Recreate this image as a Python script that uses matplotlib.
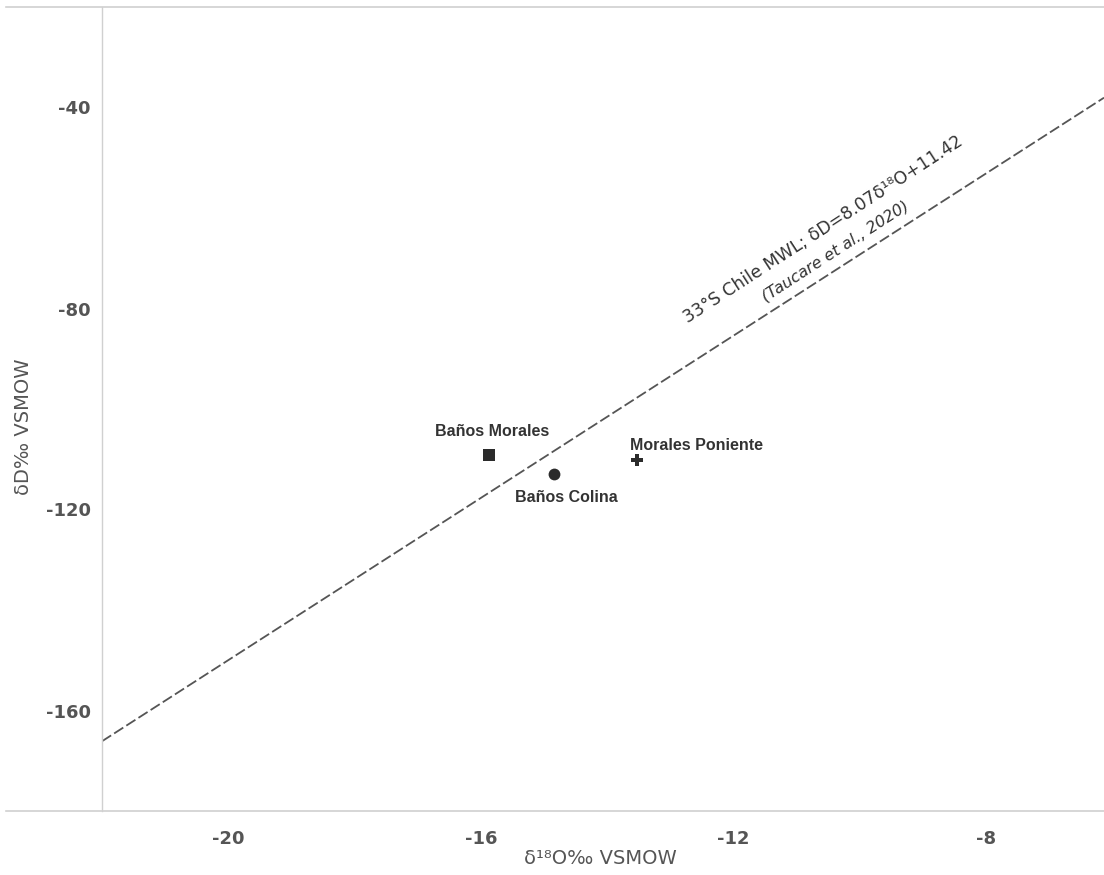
import matplotlib
matplotlib.use("Agg")
import matplotlib.pyplot as plt
import numpy as np
from matplotlib.lines import Line2D

# sample points (d18O, dD)
sites = ["Baños Morales", "Baños Colina", "Morales Poniente"]
d18o = [-15.87, -14.84, -13.52]
dd = [-109.2, -112.9, -110.1]
markers = ["s", "o", "P"]

# local meteoric water line (Taucare et al., 2020)
mwl_slope = 8.07
mwl_intercept = 11.42

x_ticks = [-20, -16, -12, -8]
y_ticks = [-40, -80, -120, -160]

W, H = 1104, 875
fig = plt.figure(figsize=(W / 100, H / 100), dpi=100)
ax = fig.add_axes([102 / W, (H - 811) / H, 1002 / W, 804 / H])

xlim = (-22, -6.13)
ylim = (-180, -20)

xs = np.array(xlim)
ax.plot(xs, mwl_slope * xs + mwl_intercept, color="#555555", lw=1.3,
        dashes=(6, 2))

label_off = {
    "Baños Morales": ((2, 17), "center"),
    "Baños Colina": ((9, -17), "center"),
    "Morales Poniente": ((-5, 10), "left"),
}
for name, x, y, m in zip(sites, d18o, dd, markers):
    ax.plot(x, y, marker=m, color="#2b2b2b", ms=8 if m != "o" else 8.5,
            mew=0, linestyle="none")
    off, ha = label_off[name]
    ax.annotate(name, (x, y), xytext=off, textcoords="offset points",
                ha=ha, va="center", fontsize=11.5, fontweight="bold",
                family="Liberation Sans", color="#333333")

ax.text(-10.57, -64.2, "33°S Chile MWL; δD=8.07δ¹⁸O+11.42", rotation=33,
        rotation_mode="anchor", ha="center", va="center", fontsize=12.5,
        color="#333333")
ax.text(-10.38, -68.6, "(Taucare et al., 2020)", rotation=33,
        rotation_mode="anchor", ha="center", va="center", fontsize=11.5,
        style="italic", color="#333333")

ax.set_xlim(*xlim)
ax.set_ylim(*ylim)
ax.set_xticks(x_ticks)
ax.set_yticks(y_ticks)
ax.set_xticklabels([str(t) for t in x_ticks])
ax.set_yticklabels([str(t) for t in y_ticks])
ax.tick_params(length=0, labelsize=13, labelcolor="#555555")
ax.tick_params(axis="x", pad=14)
ax.tick_params(axis="y", pad=8)
for lab in ax.get_xticklabels() + ax.get_yticklabels():
    lab.set_fontweight("bold")

for s in ["top", "right", "bottom"]:
    ax.spines[s].set_visible(False)
ax.spines["left"].set_color("#d0d0d0")
ax.spines["left"].set_linewidth(1)

for yy in [(H - 7) / H, (H - 811) / H]:
    fig.add_artist(Line2D([6 / W, 1], [yy, yy], transform=fig.transFigure,
                          color="#d0d0d0", lw=1.2))

ax.set_xlabel("δ¹⁸O‰ VSMOW", fontsize=14, color="#555555")
ax.set_ylabel("δD‰ VSMOW", fontsize=14, color="#555555")
ax.xaxis.set_label_coords(0.497, -(849 - 811) / 804)
ax.yaxis.set_label_coords((33 - 102) / 1002, (811 - 427) / 804)

fig.savefig("out.png", dpi=100)
